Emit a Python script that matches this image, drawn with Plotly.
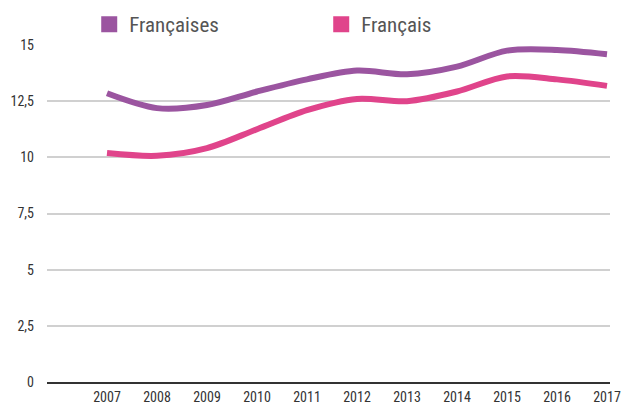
import plotly.graph_objects as go

years = [2007, 2008, 2009, 2010, 2011, 2012, 2013, 2014, 2015, 2016, 2017]
francaises = [12.85, 12.19, 12.33, 12.93, 13.47, 13.86, 13.70, 14.04, 14.75, 14.78, 14.59]
francais = [10.19, 10.07, 10.41, 11.25, 12.10, 12.60, 12.50, 12.93, 13.60, 13.47, 13.18]
series_names = ["Françaises", "Français"]
colors = ["#9B55A0", "#E0448B"]
y_ticks = [0, 2.5, 5, 7.5, 10, 12.5, 15]
y_ticktext = ["0", "2,5", "5", "7,5", "10", "12,5", "15"]

FONT = "Liberation Sans Narrow, Roboto Condensed, Roboto, sans-serif"

fig = go.Figure()
for name, vals, col in zip(series_names, [francaises, francais], colors):
    fig.add_trace(go.Scatter(
        x=years, y=vals, mode="lines", name=name,
        line=dict(color=col, width=6, shape="spline", smoothing=0.9),
        showlegend=False, hoverinfo="x+y",
    ))
    # legend entry with square swatch
    fig.add_trace(go.Scatter(
        x=[None], y=[None], mode="markers", name=name,
        marker=dict(symbol="square", size=17, color=col),
        showlegend=True,
    ))

fig.update_layout(
    width=625, height=405,
    margin=dict(l=47, r=15, t=45, b=23, autoexpand=False),
    paper_bgcolor="white", plot_bgcolor="white",
    font=dict(family=FONT, size=14, color="#333333"),
    legend=dict(
        orientation="h", x=0.075, xanchor="left", y=1.0, yanchor="bottom",
        entrywidth=187, entrywidthmode="pixels",
        font=dict(family=FONT, size=21, color="#555555"),
        itemsizing="trace", bgcolor="rgba(0,0,0,0)",
    ),
    xaxis=dict(
        range=[2005.8, 2017.06], tickvals=years, ticktext=[str(y) for y in years],
        showgrid=False, zeroline=False, showline=True, linecolor="#333333", linewidth=2,
        ticks="", ticklabelstandoff=1, tickfont=dict(family=FONT, size=14, color="#333333"),
        fixedrange=True,
    ),
    yaxis=dict(
        range=[0, 15.0], tickvals=y_ticks, ticktext=y_ticktext,
        showgrid=True, gridcolor="#D0D0D0", gridwidth=1.5, zeroline=False,
        showline=False, ticks="", ticklabelstandoff=12,
        tickfont=dict(family=FONT, size=14, color="#333333"),
        fixedrange=True,
    ),
    showlegend=True,
)

fig.write_html(
    "out.html",
    config={"displayModeBar": False},
    post_script="document.body.style.margin='0';document.body.style.overflow='hidden';",
)
